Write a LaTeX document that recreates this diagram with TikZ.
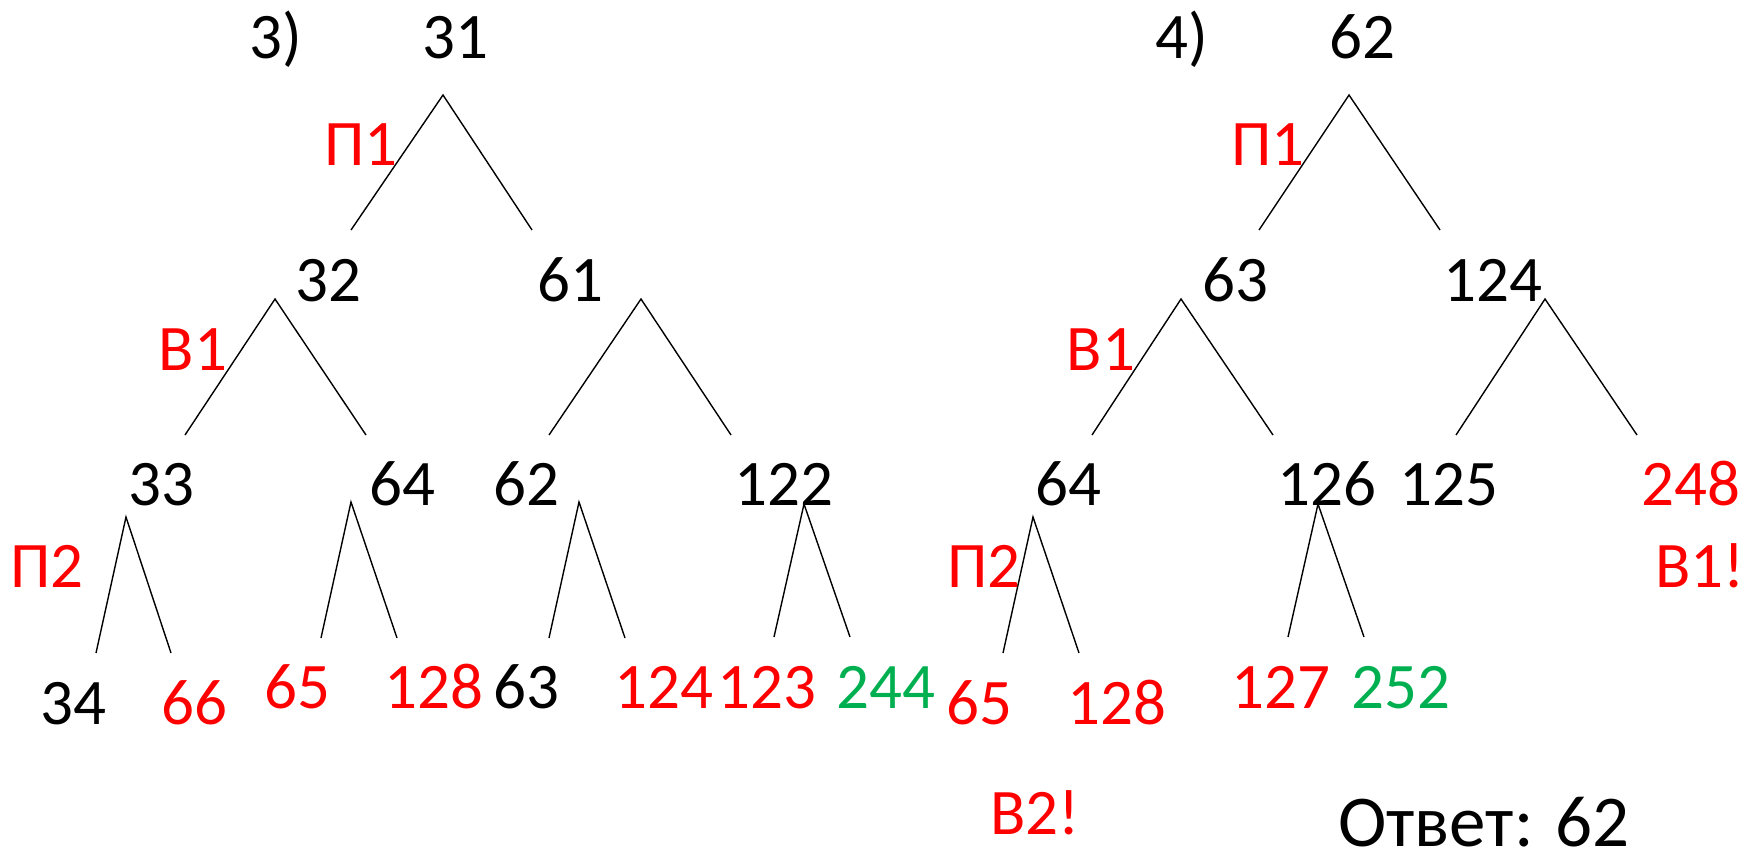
\documentclass[tikz,border=0pt]{standalone}
\usepackage{fontspec}
\setmainfont{Carlito}

\definecolor{markred}{RGB}{255,0,0}
\definecolor{goodgreen}{RGB}{0,176,80}

\begin{document}
\begin{tikzpicture}[
  x=1pt,y=-1pt,
  font=\fontsize{65}{78}\selectfont,
  num/.style={anchor=base,inner sep=0pt},
  bad/.style={num,text=markred},
  good/.style={num,text=goodgreen},
  branch/.style={black,line width=1.4pt}
]
\useasboundingbox (0,0) rectangle (1744,857);
% forks: name / apex x / apex y / left x / right x / foot y
\foreach \fk/\ax/\ay/\lx/\rx/\fy in {
    a1/443/95/351/532/230, a2/275/299/185/366/435, a3/641/299/549/731/435,
    a4/126/517/96/171/653, a5/351/502/321/397/638, a6/579/502/549/625/638,
    a7/804/504/774/850/637,
    b1/1349/95/1259/1440/230, b2/1181/299/1092/1273/435, b3/1545/299/1456/1637/435,
    b4/1033/517/1003/1079/653, b5/1318/504/1288/1364/637} {
  \coordinate (\fk top) at (\ax,\ay);
  \coordinate (\fk left) at (\lx,\fy);
  \coordinate (\fk right) at (\rx,\fy);
  \draw[branch] (\fk left) -- (\fk top) -- (\fk right);
}
% task 3
\node[num] (taskthree) at (276,58) {3)};
\node[num] (t3root) at (455,58) {31};
\node[bad] (t3pone) at (361,165) {П1};
\node[num] (t3n32) at (328,301) {32};
\node[num] (t3n61) at (570,301) {61};
\node[bad] (t3bone) at (193,370) {В1};
\node[num] (t3n33) at (161,505) {33};
\node[num] (t3n64) at (402,505) {64};
\node[num] (t3n62) at (526,505) {62};
\node[num] (t3n122) at (784,505) {122};
\node[bad] (t3ptwo) at (47,587) {П2};
\node[num] (t3n34) at (73,724) {34};
\node[bad] (t3n66) at (194,724) {66};
\node[bad] (t3n65) at (297,708) {65};
\node[bad] (t3n128) at (434,708) {128};
\node[num] (t3n63) at (526,708) {63};
\node[bad] (t3n124) at (664,708) {124};
\node[bad] (t3n123) at (767,708) {123};
\node[good] (t3n244) at (886,708) {244};
% task 4
\node[num] (taskfour) at (1182,58) {4)};
\node[num] (t4root) at (1362,58) {62};
\node[bad] (t4pone) at (1268,165) {П1};
\node[num] (t4n63) at (1235,301) {63};
\node[num] (t4n124) at (1493,301) {124};
\node[bad] (t4bone) at (1101,370) {В1};
\node[num] (t4n64) at (1068,505) {64};
\node[num] (t4n126) at (1327,505) {126};
\node[num] (t4n125) at (1449,505) {125};
\node[bad] (t4n248) at (1691,505) {248};
\node[bad] (t4ptwo) at (984,587) {П2};
\node[bad,anchor=base west] (t4bonewin) at (1655,587) {В1!};
\node[bad] (t4n65) at (979,724) {65};
\node[bad] (t4n128) at (1117,724) {128};
\node[bad] (t4n127) at (1281,708) {127};
\node[good] (t4n252) at (1401,708) {252};
\node[bad] (t4btwowin) at (1035,834) {В2!};
\node[num,font=\fontsize{73}{88}\selectfont] (answer) at (1484,846) {Ответ: 62};
\end{tikzpicture}
\end{document}
